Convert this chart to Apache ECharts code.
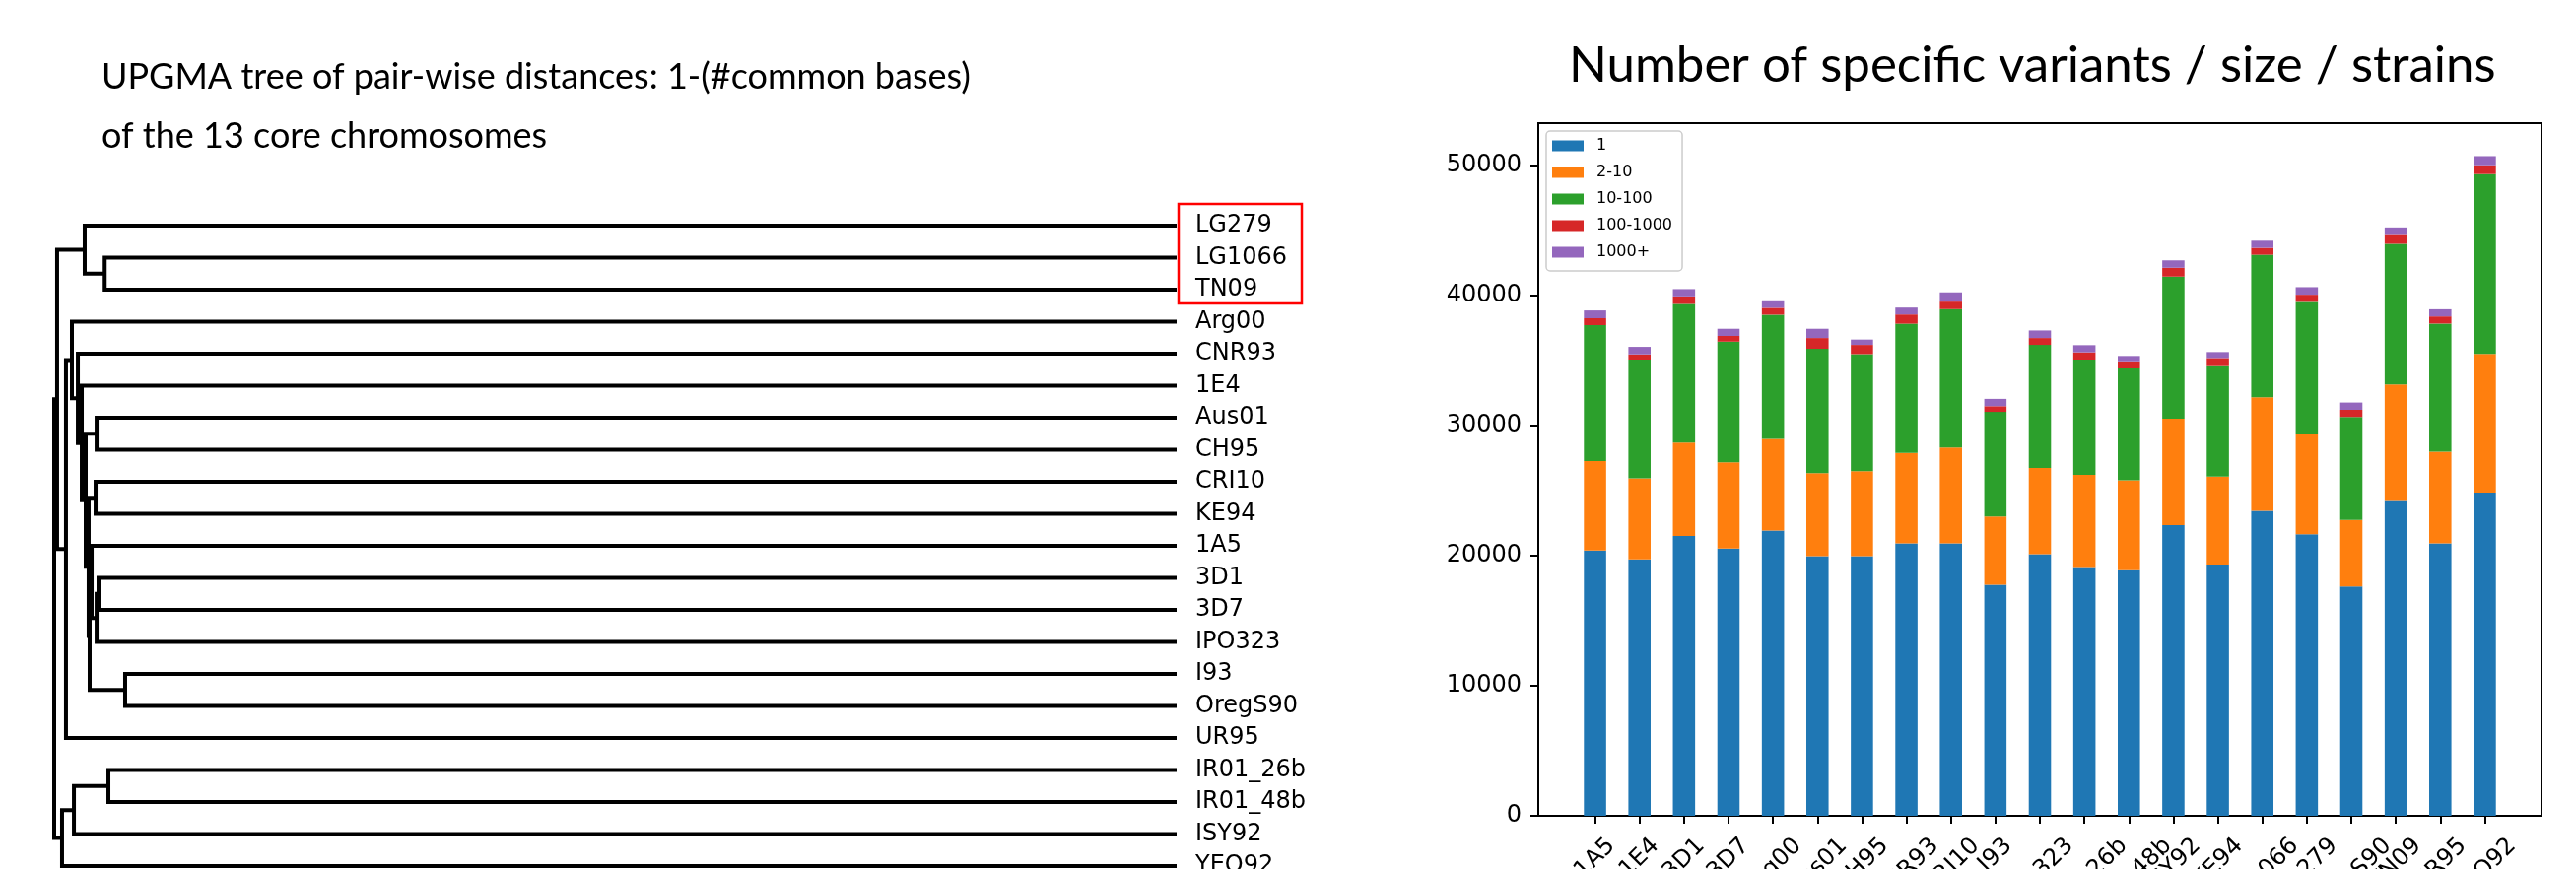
<!DOCTYPE html>
<html><head><meta charset="utf-8">
<script src="https://cdn.jsdelivr.net/npm/echarts@6/dist/echarts.min.js"></script>
<style>html,body{margin:0;padding:0;background:#fff}#c{width:2614px;height:882px}</style>
</head><body><div id="c"></div>
<script>
// ---------- Dendrogram data ----------
const treeLeaves = ['LG279','LG1066','TN09','Arg00','CNR93','1E4','Aus01','CH95','CRI10','KE94','1A5','3D1','3D7','IPO323','I93','OregS90','UR95','IR01_26b','IR01_48b','ISY92','YEO92'];
// [node, childA, childB, merge height]
const treeMerges = [
  ['A','LG1066','TN09',0.955],
  ['B','LG279','A',0.9728],
  ['C1','Aus01','CH95',0.9622],
  ['C2','CRI10','KE94',0.9631],
  ['C3','3D1','3D7',0.9605],
  ['C4','C3','IPO323',0.9622],
  ['C5','I93','OregS90',0.9368],
  ['D','1A5','C4',0.9666],
  ['E','D','C5',0.9684],
  ['F','C2','E',0.9693],
  ['G','C1','F',0.9719],
  ['H','1E4','G',0.9754],
  ['S','CNR93','H',0.9789],
  ['R','Arg00','S',0.9842],
  ['Q','R','UR95',0.9895],
  ['P','B','Q',0.9974],
  ['W','IR01_26b','IR01_48b',0.9517],
  ['Z','W','ISY92',0.9824],
  ['Y','Z','YEO92',0.9930],
  ['root','P','Y',1.0]
];
const highlighted = ['LG279','LG1066','TN09'];

// ---------- Bar chart data ----------
const strains = ['1A5','1E4','3D1','3D7','Arg00','Aus01','CH95','CNR93','CRI10','I93','IPO323','IR01_26b','IR01_48b','ISY92','KE94','LG1066','LG279','OregS90','TN09','UR95','YEO92'];
const sizeNames = ['1','2-10','10-100','100-1000','1000+'];
const size1 =       [20390,19710,21500,20540,21930,19960,19960,20940,20940,17750,20100,19130,18880,22330,19310,23440,21630,17620,24270,20940,24830];
const size2_10 =    [6880,6230,7180,6630,7030,6380,6530,6940,7360,5250,6640,7070,6900,8190,6750,8720,7760,5120,8870,7050,10660];
const size10_100 =  [10440,9120,10660,9270,9550,9550,8990,9940,10640,8040,9450,8860,8600,10920,8570,10960,10110,7910,10820,9840,13830];
const size100_1000 =[530,400,580,440,530,830,710,710,580,440,530,560,550,680,550,530,550,550,680,550,680];
const size1000p =   [600,580,560,550,580,710,410,530,710,560,580,550,410,570,460,550,580,560,580,550,700];
const yTicks = [0,10000,20000,30000,40000,50000];
const colors = ['#1f77b4','#ff7f0e','#2ca02c','#d62728','#9467bd'];

// ---------- build tree geometry (in data units) ----------
const pos = {};
treeLeaves.forEach((n,i)=>{ pos[n] = {y:i, h:0}; });
const treeData = treeMerges.map(m=>{
  const a = pos[m[1]], b = pos[m[2]];
  pos[m[0]] = {y:(a.y+b.y)/2, h:m[3]};
  return [m[3], a.y, b.y, a.h, b.h];
});

// ---------- bar grid layout (matplotlib-like margins) ----------
const frameLeft = 1561, frameWidth = 1018, frameTop = 125, frameHeight = 703;
const nCat = strains.length;
const dataSpan = (nCat - 1) + 0.5;             // bars of width 0.5
const span = dataSpan * 1.1;                    // 5% margins each side
const step = frameWidth / span;
const barGridLeft = frameLeft + (0.05 * dataSpan + 0.25 - 0.5) * step;
const totals = strains.map((_,i)=>size1[i]+size2_10[i]+size10_100[i]+size100_1000[i]+size1000p[i]);
const yMax = 1.05 * Math.max(...totals);

// rotated labels centred under ticks (matplotlib ha='center')
const cv = document.createElement('canvas').getContext('2d');
cv.font = '24px "DejaVu Sans"';
const labelMargin = 10;
const rich = {};
strains.forEach((s,i)=>{
  const w = cv.measureText(s).width;
  const H = 0.7071 * (w + 28);
  const D = (16.8 + H/2) - labelMargin;
  const p = 1.4142 * D;
  rich['s'+i] = {fontSize:24, fontFamily:'DejaVu Sans', color:'#000', padding:[p, p, 0, 0]};
});

const chart = echarts.init(document.getElementById('c'), null, {renderer:'canvas'});
const option = {
  backgroundColor:'#fff',
  animation:false,
  title:[
    {text:'UPGMA tree of pair-wise distances: 1-(#common bases)\nof the 13 core chromosomes', left:103, top:48, padding:0,
     textStyle:{fontFamily:'Lato', fontSize:36, fontWeight:'normal', color:'#000', lineHeight:60}},
    {text:'Number of specific variants / size / strains', left:1592, top:37, padding:0,
     textStyle:{fontFamily:'Lato', fontSize:51, fontWeight:'normal', color:'#000', lineHeight:60}}
  ],
  legend:{
    data:sizeNames, orient:'vertical', left:1569, top:133, padding:[7,10,11,6],
    itemWidth:32, itemHeight:11, itemGap:11, icon:'rect',
    textStyle:{fontSize:16, fontFamily:'DejaVu Sans', color:'#000', padding:[0,0,0,8]},
    backgroundColor:'rgba(255,255,255,0.8)', borderColor:'#cccccc', borderWidth:1.5, borderRadius:4
  },
  grid:[
    {left:55, right:1420, top:229, height:650, outerBoundsMode:'none', containLabel:false},
    {left:frameLeft, top:frameTop, width:frameWidth, height:frameHeight, show:true, borderColor:'#000', borderWidth:2,
     backgroundColor:'transparent', outerBoundsMode:'none', containLabel:false},
    {left:barGridLeft, top:frameTop, width:nCat*step, height:frameHeight, outerBoundsMode:'none', containLabel:false}
  ],
  xAxis:[
    {type:'value', gridIndex:0, min:0, max:1, inverse:true, show:false},
    {type:'value', gridIndex:1, min:0, max:1, show:false},
    {type:'category', gridIndex:2, data:strains, boundaryGap:true,
     axisLine:{show:false},
     axisTick:{show:true, alignWithLabel:true, length:8, lineStyle:{color:'#000', width:2}},
     axisLabel:{interval:0, rotate:45, align:'center', verticalAlign:'middle', margin:labelMargin, hideOverlap:false,
       formatter:(v,i)=>'{s'+i+'|'+v+'}', rich:rich},
     splitLine:{show:false}}
  ],
  yAxis:[
    {type:'value', gridIndex:0, min:0, max:treeLeaves.length-1, inverse:true, position:'right',
     axisLine:{show:false}, axisTick:{show:false}, splitLine:{show:false},
     axisLabel:{customValues:treeLeaves.map((_,i)=>i), formatter:v=>treeLeaves[Math.round(v)], margin:19,
       fontSize:24, fontFamily:'DejaVu Sans', color:'#000', align:'left', verticalAlign:'middle'}},
    {type:'value', gridIndex:1, min:0, max:yMax, position:'left',
     axisLine:{show:false}, splitLine:{show:false},
     axisTick:{show:true, length:8, lineStyle:{color:'#000', width:2}, customValues:yTicks},
     axisLabel:{customValues:yTicks, formatter:v=>String(v), margin:17, fontSize:24, fontFamily:'DejaVu Sans', color:'#000'}},
    {type:'value', gridIndex:2, min:0, max:yMax, show:false}
  ],
  series:[
    {type:'custom', xAxisIndex:0, yAxisIndex:0, data:treeData, clip:false, silent:true,
     encode:{x:0, y:1},
     renderItem:(params, api)=>{
       const h=api.value(0), ya=api.value(1), yb=api.value(2), ha=api.value(3), hb=api.value(4);
       return {type:'polyline', shape:{points:[api.coord([ha,ya]), api.coord([h,ya]), api.coord([h,yb]), api.coord([hb,yb])]},
         style:{stroke:'#000', lineWidth:4, fill:null, lineJoin:'miter', lineCap:'butt'}};
     }},
    ...[size1,size2_10,size10_100,size100_1000,size1000p].map((arr,k)=>({
      name:sizeNames[k], type:'bar', stack:'total', xAxisIndex:2, yAxisIndex:2, data:arr,
      barWidth:'50%', itemStyle:{color:colors[k]}
    }))
  ]
};
chart.setOption(option);

// red box around highlighted leaf labels (positions from the tree axes)
const iTop = treeLeaves.indexOf(highlighted[0]);
const iBot = treeLeaves.indexOf(highlighted[highlighted.length-1]);
const pTop = chart.convertToPixel({xAxisIndex:0, yAxisIndex:0}, [0, iTop - 0.68]);
const pBot = chart.convertToPixel({xAxisIndex:0, yAxisIndex:0}, [0, iBot + 0.43]);
chart.setOption({graphic:[{type:'rect', shape:{x:pTop[0]+2, y:pTop[1], width:125, height:pBot[1]-pTop[1]},
  style:{fill:null, stroke:'#ff0000', lineWidth:2.5}, z:10}]});
</script>
</body></html>
